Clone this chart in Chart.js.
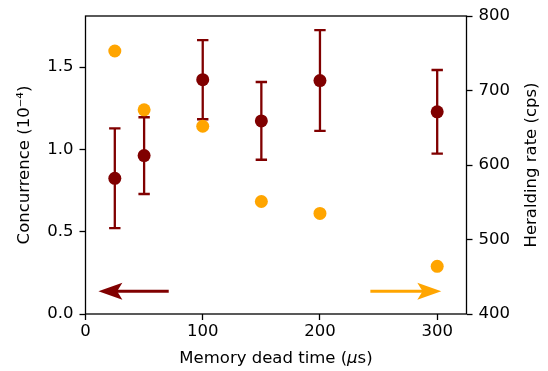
<!DOCTYPE html>
<html>
<head>
<meta charset="utf-8">
<script src="https://cdn.jsdelivr.net/npm/chart.js@4/dist/chart.umd.min.js"></script>
<style>
  html, body { margin: 0; padding: 0; background: #fff; }
  #wrap { width: 548px; height: 371px; }
</style>
</head>
<body>
<div id="wrap"><canvas id="c" width="548" height="371"></canvas></div>
<script>
// Memory dead time (µs) for each measurement
const deadTimes = [25, 50, 100, 150, 200, 300];
// Concurrence (units of 1e-4) and its symmetric uncertainty
const concurrence = [0.824, 0.962, 1.423, 1.173, 1.418, 1.228];
const concurrenceErr = [0.303, 0.233, 0.240, 0.236, 0.306, 0.254];
// Heralding rate (counts per second)
const heraldingRate = [753, 674, 652, 551, 535, 464];

// Axis ticks
const xTicks = [0, 100, 200, 300];
const leftTicks = [0.0, 0.5, 1.0, 1.5];
const rightTicks = [400, 500, 600, 700, 800];

// Axis titles (the x title has an italic µ, the right title reads bottom-to-top)
const xTitleParts = [['Memory dead time (', false], ['μ', true], ['s)', false]];
const rightTitle = 'Heralding rate (cps)';

// Arrows telling which axis each series belongs to: [xFrom, xTo, y on left axis]
const leftArrow = [71, 11, 0.138];
const rightArrow = [243, 303.5, 0.138];

const DARK = '#800000';
const ORANGE = '#ffa500';
const FONT = 'DejaVu Sans';
const FS = 16.5;

const errorBars = {
  id: 'errorBars',
  beforeDatasetsDraw(chart) {
    const {ctx, scales} = chart;
    const xs = scales.x, ys = scales.y;
    ctx.save();
    ctx.strokeStyle = DARK;
    ctx.lineWidth = 2.3;
    const cap = 5.7;
    deadTimes.forEach((t, i) => {
      const px = xs.getPixelForValue(t);
      const top = ys.getPixelForValue(concurrence[i] + concurrenceErr[i]);
      const bot = ys.getPixelForValue(concurrence[i] - concurrenceErr[i]);
      ctx.beginPath();
      ctx.moveTo(px, top); ctx.lineTo(px, bot);
      ctx.moveTo(px - cap, top); ctx.lineTo(px + cap, top);
      ctx.moveTo(px - cap, bot); ctx.lineTo(px + cap, bot);
      ctx.stroke();
    });
    ctx.restore();
  }
};

function drawArrow(ctx, x0, x1, y, color) {
  const dir = Math.sign(x1 - x0);
  const headLen = 24, headHalf = 8.5;
  ctx.save();
  ctx.strokeStyle = color;
  ctx.fillStyle = color;
  ctx.lineWidth = 3;
  ctx.beginPath();
  ctx.moveTo(x0, y);
  ctx.lineTo(x1 - dir * headLen * 0.7, y);
  ctx.stroke();
  ctx.beginPath();
  ctx.moveTo(x1, y);
  ctx.lineTo(x1 - dir * headLen, y - headHalf);
  ctx.lineTo(x1 - dir * headLen * 0.78, y);
  ctx.lineTo(x1 - dir * headLen, y + headHalf);
  ctx.closePath();
  ctx.fill();
  ctx.restore();
}

const framePlugin = {
  id: 'frameAndArrows',
  afterDraw(chart) {
    const {ctx, chartArea: a, scales} = chart;
    const xs = scales.x, ys = scales.y;
    drawArrow(ctx, xs.getPixelForValue(leftArrow[0]), xs.getPixelForValue(leftArrow[1]),
              ys.getPixelForValue(leftArrow[2]), DARK);
    drawArrow(ctx, xs.getPixelForValue(rightArrow[0]), xs.getPixelForValue(rightArrow[1]),
              ys.getPixelForValue(rightArrow[2]), ORANGE);
    ctx.save();
    ctx.strokeStyle = '#000';
    ctx.lineWidth = 1.3;
    ctx.strokeRect(a.left, a.top, a.right - a.left, a.bottom - a.top);

    // x-axis title with italic mu
    ctx.fillStyle = '#000';
    ctx.textBaseline = 'middle';
    ctx.textAlign = 'left';
    const fonts = it => (it ? 'italic ' : '') + FS + 'px "' + FONT + '"';
    let total = 0;
    xTitleParts.forEach(([s, it]) => { ctx.font = fonts(it); total += ctx.measureText(s).width; });
    let x = (a.left + a.right) / 2 - total / 2;
    const yT = scales.x.bottom - 12;
    xTitleParts.forEach(([s, it]) => {
      ctx.font = fonts(it);
      ctx.fillText(s, x, yT);
      x += ctx.measureText(s).width;
    });

    // right-axis title, rotated to read upward
    ctx.font = fonts(false);
    ctx.textAlign = 'center';
    ctx.translate(scales.y2.right - 16.5, (a.top + a.bottom) / 2);
    ctx.rotate(-Math.PI / 2);
    ctx.fillText(rightTitle, 0, 0);
    ctx.restore();
  }
};

const tickGrid = { drawOnChartArea: false, drawTicks: true, tickLength: 6, tickWidth: 1.3, tickColor: '#000' };

new Chart(document.getElementById('c'), {
  type: 'scatter',
  data: {
    datasets: [
      {
        label: 'Heralding rate',
        data: deadTimes.map((t, i) => ({x: t, y: heraldingRate[i]})),
        yAxisID: 'y2',
        backgroundColor: ORANGE,
        borderColor: ORANGE,
        pointRadius: 6.5,
        borderWidth: 0,
        order: 0
      },
      {
        label: 'Concurrence',
        data: deadTimes.map((t, i) => ({x: t, y: concurrence[i]})),
        yAxisID: 'y',
        backgroundColor: DARK,
        borderColor: DARK,
        pointRadius: 6.5,
        borderWidth: 0,
        order: 1
      }
    ]
  },
  options: {
    responsive: false,
    animation: false,
    events: [],
    layout: { padding: { top: 16, left: 0, right: 0, bottom: 0 } },
    plugins: { legend: { display: false }, tooltip: { enabled: false } },
    scales: {
      x: {
        type: 'linear', min: 0, max: 325,
        afterBuildTicks: s => { s.ticks = xTicks.map(v => ({value: v})); },
        afterFit: s => { s.height = 57; },
        border: { display: false },
        grid: tickGrid,
        ticks: { color: '#000', font: { family: FONT, size: FS }, padding: 2, maxRotation: 0 },
        title: { display: false }
      },
      y: {
        type: 'linear', position: 'left', min: 0, max: 1.81,
        afterBuildTicks: s => { s.ticks = leftTicks.map(v => ({value: v})); },
        afterFit: s => { s.width = 85.5; },
        border: { display: false },
        grid: tickGrid,
        ticks: { color: '#000', font: { family: FONT, size: FS }, padding: 6,
                 callback: v => v.toFixed(1) },
        title: { display: true, text: 'Concurrence (10⁻⁴)', color: '#000',
                 font: { family: FONT, size: FS }, padding: { top: 15, bottom: 0 } }
      },
      y2: {
        type: 'linear', position: 'right', min: 400, max: 800,
        afterBuildTicks: s => { s.ticks = rightTicks.map(v => ({value: v})); },
        afterFit: s => { s.width = 81.5; },
        border: { display: false },
        grid: tickGrid,
        ticks: { color: '#000', font: { family: FONT, size: FS }, padding: 6 },
        title: { display: false }
      }
    }
  },
  plugins: [errorBars, framePlugin]
});
</script>
</body>
</html>
